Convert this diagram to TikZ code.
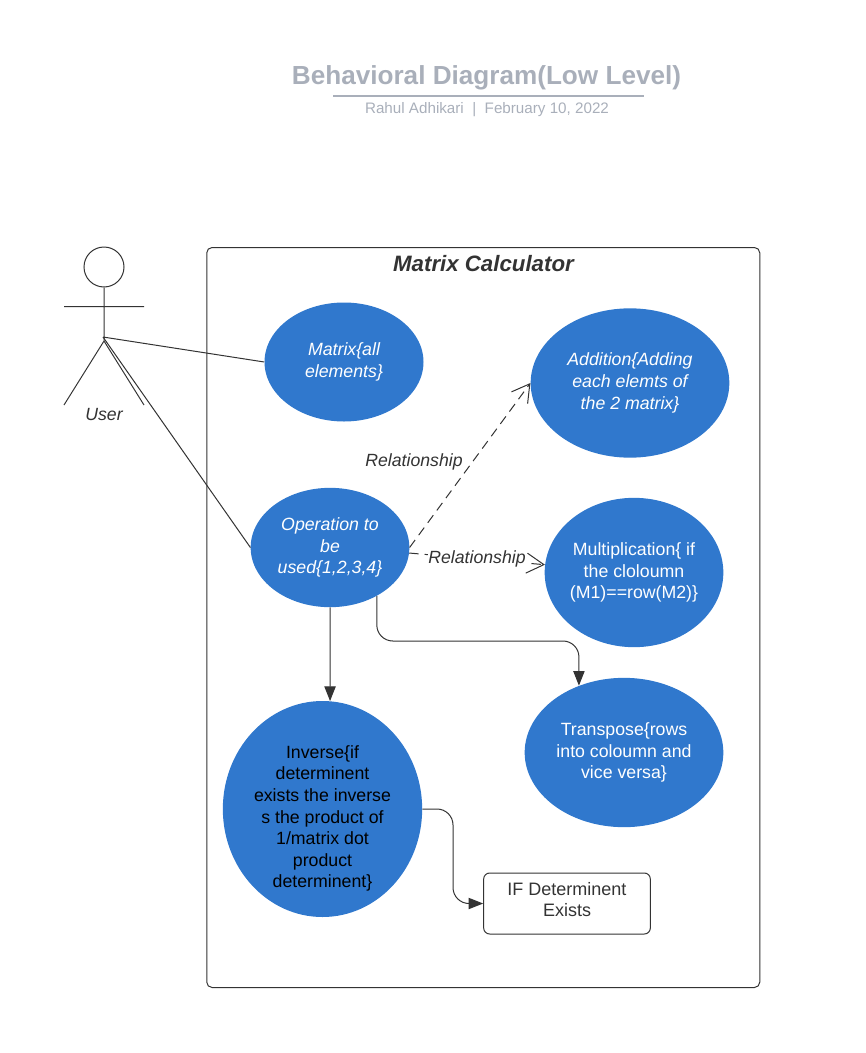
\documentclass[tikz,border=0pt]{standalone}
\usepackage{fontspec}
\setmainfont{Liberation Sans}
\usetikzlibrary{arrows.meta, positioning, shapes.geometric}
\definecolor{caseblue}{HTML}{3078CD}
\definecolor{inkgrey}{HTML}{333333}
\definecolor{titlegrey}{HTML}{A9AFBA}
\tikzset{
    usecase/.style={ellipse, fill=caseblue, text=white, inner sep=-3pt, align=center, font=\fontsize{13.3}{16.2}\selectfont},
    wire/.style={draw=inkgrey, line width=0.75pt},
    solidtip/.style={-{Triangle[length=11pt, width=8.5pt]}, rounded corners=12pt},
    opentip/.style={dash pattern=on 7pt off 4.5pt, -{Straight Barb[length=13pt, width=15pt, line width=0.75pt]}},
    tag/.style={text=inkgrey, inner sep=0pt, font=\fontsize{13.25}{16}\selectfont\itshape}
}

\begin{document}
\begin{tikzpicture}[x=0.75pt, y=-0.75pt]
    \useasboundingbox (0,0) rectangle (865,1053);
    \node (title) at (486.5,78) [text=titlegrey, font=\fontsize{19.6}{24}\selectfont\bfseries] {Behavioral Diagram(Low Level)};
    \node (byline) at (487,109.5) [text=titlegrey, font=\fontsize{11.4}{14}\selectfont] {Rahul Adhikari\ \ |\ \ February 10, 2022};
    \coordinate (ruleleft) at (333,96);
    \coordinate (ruleright) at (644,96);
    \draw [titlegrey, line width=1.6pt] (ruleleft) -- (ruleright);

    \node (frame) at (483.25,617.5) [draw=inkgrey, line width=0.75pt, rounded corners=4pt, minimum width=414.75pt, minimum height=555pt] {};
    \node (frametitle) at (483.5,264) [text=inkgrey, font=\fontsize{16.7}{20}\selectfont\bfseries\itshape] {Matrix Calculator};

    \node (head) at (104,267) [circle, draw=inkgrey, line width=0.75pt, minimum size=30pt, inner sep=0pt] {};
    \coordinate (hip) at (104,341);
    \coordinate (joint) at (103,337);
    \coordinate (armleft) at (64,306.5);
    \coordinate (armright) at (144,306.5);
    \coordinate (footleft) at (64,405);
    \coordinate (footright) at (144,405);
    \draw [wire] (head) -- (hip)
          (armleft) -- (armright)
          (footleft) -- (hip) -- (footright);
    \node (user) at (104,414.5) [tag] {User};

    \node (matrix) at (344,362) [usecase, minimum width=119.25pt, minimum height=89.25pt] {\itshape Matrix\{all\\\itshape elements\}};
    \node (addition) at (630,383) [usecase, minimum width=149pt, minimum height=112pt] {\itshape Addition\{Adding\\\itshape each elemts of\\\itshape the 2 matrix\}};
    \node (operation) at (330,547.5) [usecase, minimum width=119pt, minimum height=89.5pt] {\itshape Operation to\\\itshape be\\\itshape used\{1,2,3,4\}};
    \node (multiply) at (634,572.5) [usecase, minimum width=134pt, minimum height=112pt] {Multiplication\{ if\\the cloloumn\\(M1)==row(M2)\}};
    \node (transpose) at (624,752.5) [usecase, minimum width=149pt, minimum height=112pt] {Transpose\{rows\\into coloumn and\\vice versa\}};
    \node (inverse) at (322.5,809) [usecase, minimum width=149.5pt, minimum height=162pt] {};
    \node (inversetext) at (322.5,818.5) [text=black, inner sep=0pt, align=center, font=\fontsize{13.3}{16.2}\selectfont] {Inverse\{if\\determinent\\exists the inverse\\s the product of\\1/matrix dot\\product\\determinent\}};
    \node (exists) at (567,903.5) [draw=inkgrey, line width=0.75pt, rounded corners=4.5pt, text=inkgrey, minimum width=125pt, minimum height=45.75pt, inner sep=0pt, align=center, font=\fontsize{13.5}{16}\selectfont] {IF Determinent\\Exists\rule[-6pt]{0pt}{1pt}};

    \coordinate (turnright) at (450,641);
    \coordinate (turndown) at (453,850);
    \draw [wire] (joint) -- (matrix.west)
          (joint) -- (operation.west);
    \draw [wire, opentip] (operation.east) -- (addition.west);
    \draw [wire, opentip] (operation.-4) -- (multiply.175);
    \draw [wire, solidtip] (operation.south) -- (inverse.86);
    \draw [wire, solidtip] (operation.-46) |- (turnright) -| (transpose.124);
    \draw [wire, solidtip] (inverse.east) -| (turndown) |- (exists.west);

    \node (relationa) at (414,462) [tag] {Relationship};
    \node (relationb) at (477,559) [tag, fill=white] {Relationship};
\end{tikzpicture}
\end{document}
